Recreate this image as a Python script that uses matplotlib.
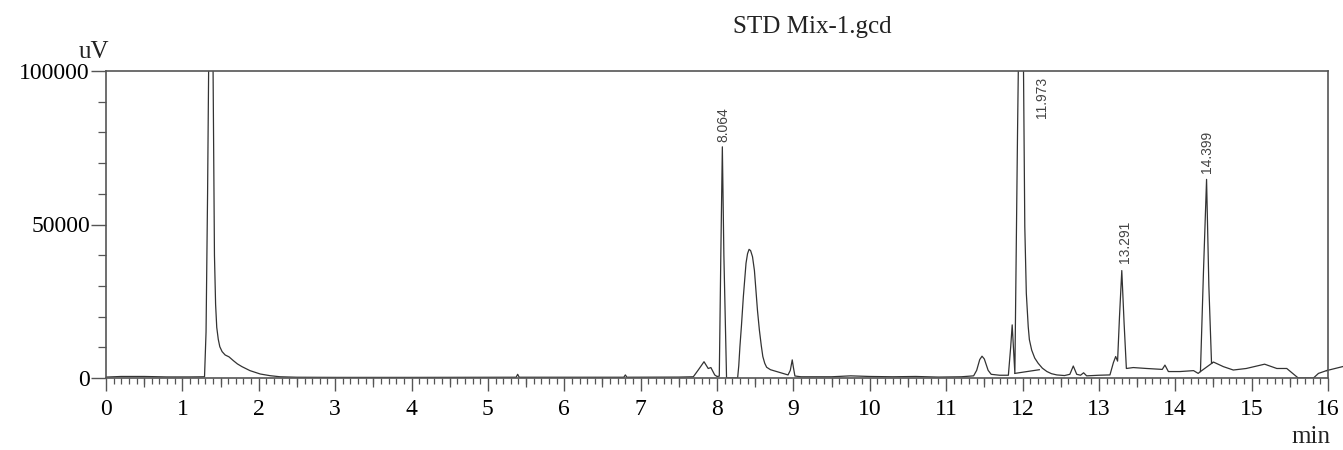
import matplotlib
matplotlib.use("Agg")
import matplotlib.pyplot as plt
import numpy as np

# chromatogram trace: time (min), signal (uV)
t = [0.00, 0.20, 0.50, 0.80, 1.10, 1.29, 1.31, 1.33, 1.35, 1.37, 1.39, 1.405, 1.42, 1.435,
     1.45, 1.47, 1.49, 1.52, 1.56, 1.61, 1.67, 1.72, 1.78, 1.885, 2.02, 2.15, 2.28, 2.50,
     3.00, 4.00, 5.00,
     5.37, 5.39, 5.41, 6.00, 6.78, 6.80, 6.82, 7.50, 7.69, 7.76, 7.83, 7.885, 7.92, 7.97,
     8.00, 8.03, 8.05, 8.07, 8.09, 8.125, 8.27, 8.285, 8.30, 8.32, 8.345, 8.38, 8.40, 8.42,
     8.44, 8.465, 8.49, 8.51, 8.53, 8.555, 8.58, 8.60, 8.625, 8.65, 8.70, 8.78, 8.93, 8.96,
     8.985, 9.00, 9.02, 9.10, 9.50, 9.75, 10.00, 10.30, 10.60,
     10.90, 11.20, 11.36, 11.40, 11.44, 11.47, 11.50, 11.55, 11.59, 11.70, 11.815, 11.845,
     11.865, 11.885, 11.90, 11.935, 11.96, 11.985, 12.01, 12.03, 12.05, 12.075, 12.09, 12.12,
     12.16, 12.205, 12.26, 12.32, 12.38, 12.45,
     12.55, 12.62, 12.665, 12.71, 12.76, 12.80, 12.84, 13.00, 13.145, 13.19, 13.22, 13.245,
     13.27, 13.30, 13.33, 13.36, 13.45, 13.625, 13.83, 13.865, 13.91, 14.06, 14.24, 14.30,
     14.33, 14.37, 14.41, 14.44, 14.475, 14.50, 14.63, 14.76, 14.93, 15.17, 15.33, 15.46,
     15.61, 15.81, 15.875, 15.98, 16.19]
uv = [300, 500, 500, 350, 350, 400, 15000, 60000, 120000, 160000, 140000, 90000, 40000, 24000,
      16500, 12600, 10200, 8600, 7500, 6900, 5600, 4600, 3700, 2400, 1300, 750, 400, 250,
      200, 200, 250,
      250, 1200, 250, 250, 250, 1000, 250, 300, 400, 2800, 5300, 3100, 3400, 1000,
      500, 600, 40000, 75300, 40000, 0, 0, 4000, 10200, 17000, 26500, 37400, 40500, 41900,
      41500, 39500, 35000, 28700, 22000, 15600, 10500, 7000, 4800, 3500, 2700, 2100, 1000, 2500,
      5900, 3500, 650, 400, 400, 700, 500, 400, 500,
      300, 400, 700, 2500, 6000, 7100, 6200, 2500, 1200, 900, 900, 10000,
      17300, 8000, 1500, 80000, 130000, 160000, 110000, 49300, 27600, 16700, 12500, 9100,
      6500, 4800, 3200, 2100, 1400, 1000,
      800, 1200, 3900, 1200, 900, 1700, 700, 900, 1000, 5000, 7000, 5500,
      20000, 35000, 18000, 3100, 3400, 3100, 2800, 4200, 2100, 2100, 2400, 1500,
      2100, 35000, 64700, 30000, 4800, 5200, 3700, 2600, 3100, 4500, 3100, 3100,
      0, 0, 1500, 2400, 3700]

# integration baselines drawn under two peaks
base_t = [[11.90, 12.22], [14.33, 14.49]]
base_uv = [[1500, 2700], [2100, 5000]]

# peak labels
peak_labels = ["8.064", "11.973", "13.291", "14.399"]
peak_x = [8.08, 12.25, 13.34, 14.415]
peak_y = [76900, 98000, 37500, 66800]
peak_va = ["bottom", "top", "bottom", "bottom"]

serif = "Liberation Serif"
ink = "#333333"

fig = plt.figure(figsize=(13.43, 4.5), dpi=100)
ax = fig.add_axes([106 / 1343, 72 / 450, 1222 / 1343, 307 / 450])

t = np.array(t)
uv = np.array(uv)
ax.plot(t, uv, color=ink, lw=0.9)
tail = t >= 15.98
ax.plot(t[tail], uv[tail], color=ink, lw=0.9, clip_on=False)
for bt, bu in zip(base_t, base_uv):
    ax.plot(bt, bu, color=ink, lw=0.9)

for lab, x, y, va in zip(peak_labels, peak_x, peak_y, peak_va):
    ax.text(x, y, lab, rotation=90, ha="center", va=va, fontsize=10,
            family="Liberation Sans", color="#444444")

ax.set_xlim(0, 16)
ax.set_ylim(0, 100000)
ax.set_xticks(np.arange(0, 17, 1))
ax.set_xticks(np.arange(0, 16.01, 0.1), minor=True)
ax.set_yticks([0, 50000, 100000])
ax.set_yticks(np.arange(0, 100001, 10000), minor=True)
ax.set_xticklabels([str(i) for i in range(17)], family=serif, fontsize=17)
ax.set_yticklabels(["0", "50000", "100000"], family=serif, fontsize=17)
ax.tick_params(axis="x", which="major", direction="out", length=9, width=1,
               pad=6, color="#555555")
ax.tick_params(axis="x", which="minor", direction="out", length=4.5, width=0.9,
               color="#555555")
ax.tick_params(axis="y", which="major", direction="out", length=11, width=1,
               pad=0.5, color="#555555")
ax.tick_params(axis="y", which="minor", direction="out", length=6, width=0.9,
               color="#555555")

sec = ax.secondary_xaxis("bottom")
sec.set_xticks(np.arange(0.5, 16, 1))
sec.tick_params(direction="out", length=6.5, width=0.9, labelbottom=False,
                color="#555555")
sec.spines["bottom"].set_visible(False)

for s in ax.spines.values():
    s.set_color("#555555")
    s.set_linewidth(1.2)

ax.text(0.003, 1.042, "uV", transform=ax.transAxes, ha="right", va="baseline",
        family=serif, fontsize=18, color="#222222")
ax.text(1.0016, -0.212, "min", transform=ax.transAxes, ha="right", va="baseline",
        family=serif, fontsize=18, color="#222222")
fig.text(812 / 1343, (450 - 33) / 450, "STD Mix-1.gcd", ha="center", va="baseline",
         family=serif, fontsize=18, color="#222222")

fig.savefig("out.png", dpi=100)
